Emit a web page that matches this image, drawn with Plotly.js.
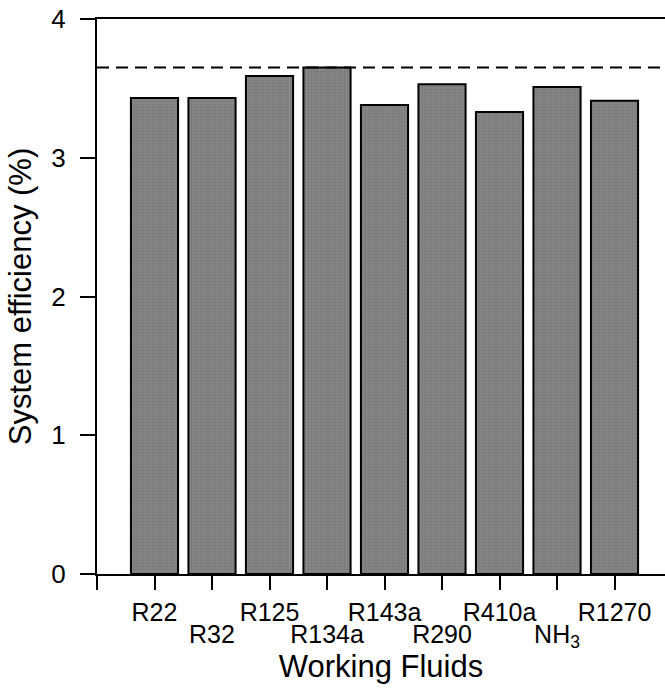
<!DOCTYPE html>
<html>
<head>
<meta charset="utf-8">
<script src="https://cdn.plot.ly/plotly-3.0.1.min.js"></script>
<style>
  html, body { margin: 0; padding: 0; background: #fff; }
  #chart { width: 665px; height: 688px; }
</style>
</head>
<body>
<div id="chart"></div>
<script>
// Working fluids and their system efficiency (%)
const fluids = ['R22', 'R32', 'R125', 'R134a', 'R143a', 'R290', 'R410a', 'NH<sub>3</sub>', 'R1270'];
const efficiency = [3.43, 3.43, 3.59, 3.65, 3.38, 3.53, 3.33, 3.51, 3.41];
const yTicks = [0, 1, 2, 3, 4];

// Bars sit at positions 1..n
const positions = fluids.map((_, i) => i + 1);

// Labels alternate between an upper row (odd bars) and a lower row (even bars)
const isUpper = (_, i) => i % 2 === 0;
const isLower = (_, i) => i % 2 === 1;
const upperVals = positions.filter(isUpper);
const upperText = fluids.filter(isUpper);
const lowerVals = positions.filter(isLower);
const lowerText = fluids.filter(isLower);

// Reference line at the best fluid's efficiency
const best = Math.max(...efficiency);

const font = 'Arial, "Liberation Sans", sans-serif';
const xRange = [0, 568 / 57.5];

const bars = {
  type: 'bar',
  x: positions,
  y: efficiency,
  width: 0.82,
  marker: {
    color: '#808080',
    pattern: { shape: '.', bgcolor: '#868686', fgcolor: '#777777', size: 3, solidity: 0.3 },
    line: { color: '#000', width: 2 }
  },
  hoverinfo: 'skip'
};

// Carrier for the lower label row's axis (no visible marks)
const lowerRow = {
  type: 'scatter',
  mode: 'markers',
  x: lowerVals,
  y: efficiency.filter(isLower),
  xaxis: 'x2',
  yaxis: 'y',
  marker: { opacity: 0, size: 1 },
  hoverinfo: 'skip'
};

const layout = {
  width: 665,
  height: 688,
  margin: { l: 97, r: 0, t: 19, b: 114 },
  paper_bgcolor: '#fff',
  plot_bgcolor: '#fff',
  showlegend: false,
  font: { family: font, color: '#000', size: 25 },
  xaxis: {
    range: xRange,
    tickmode: 'array',
    tickvals: [0].concat(upperVals, lowerVals),
    ticktext: [''].concat(upperText, lowerVals.map(() => '')),
    tickangle: 0,
    ticks: 'outside',
    ticklen: 14,
    tickwidth: 2,
    tickcolor: '#000',
    showline: true,
    linecolor: '#000',
    linewidth: 2,
    mirror: true,
    showgrid: false,
    zeroline: false,
    automargin: false,
    tickfont: { family: font, size: 25, color: '#000' },
    ticklabelstandoff: 1,
    title: { text: 'Working Fluids', font: { family: font, size: 31, color: '#000' }, standoff: 30 }
  },
  xaxis2: {
    overlaying: 'x',
    anchor: 'y',
    side: 'bottom',
    range: xRange,
    tickmode: 'array',
    tickvals: lowerVals,
    ticktext: lowerText,
    tickangle: 0,
    ticks: '',
    showline: false,
    showgrid: false,
    zeroline: false,
    automargin: false,
    tickfont: { family: font, size: 25, color: '#000' },
    ticklabelstandoff: 43
  },
  yaxis: {
    range: [0, 4],
    tickmode: 'array',
    tickvals: yTicks,
    ticks: 'outside',
    ticklen: 15,
    tickwidth: 2,
    tickcolor: '#000',
    showline: true,
    linecolor: '#000',
    linewidth: 2,
    showgrid: false,
    zeroline: false,
    automargin: false,
    tickfont: { family: font, size: 26, color: '#000' },
    ticklabelstandoff: 9,
    title: { text: 'System efficiency (%)', font: { family: font, size: 31, color: '#000' }, standoff: 10 }
  },
  shapes: [{
    type: 'line',
    xref: 'paper', x0: 0, x1: 1,
    yref: 'y', y0: best, y1: best,
    line: { color: '#000', width: 2, dash: '12px,7px' }
  }]
};

Plotly.newPlot('chart', [bars, lowerRow], layout, { displayModeBar: false, staticPlot: true });
</script>
</body>
</html>
